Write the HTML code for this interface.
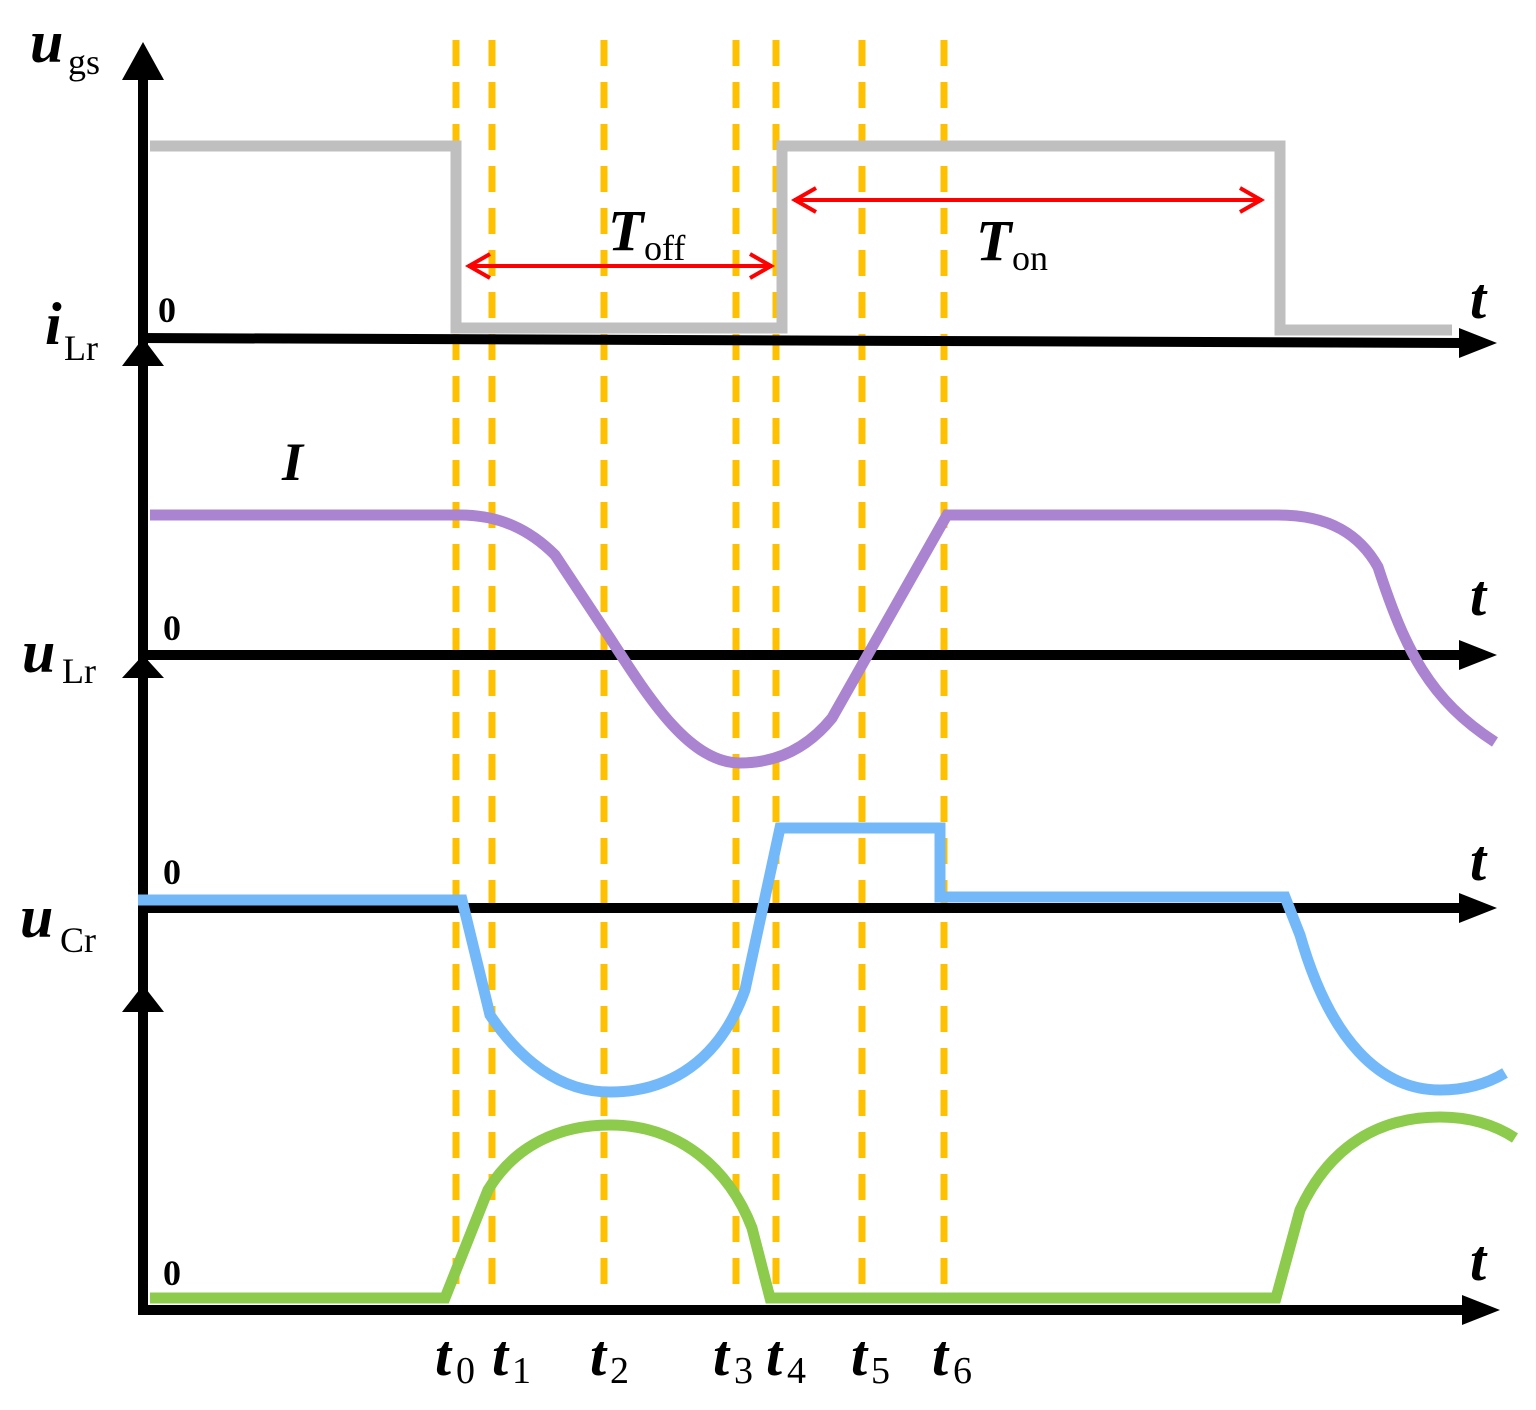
<!DOCTYPE html>
<html><head><meta charset="utf-8"><style>
html,body{margin:0;padding:0;background:#fff;}
svg{display:block;}
text{font-family:"Liberation Serif",serif;}
.b{font-weight:bold;font-style:italic;}
.s{font-weight:normal;font-style:normal;}
.z{font-weight:bold;}
</style></head><body>
<svg width="1536" height="1410" viewBox="0 0 1536 1410" xmlns="http://www.w3.org/2000/svg">
<g stroke="#FFC000" stroke-width="7" stroke-dasharray="26 16" fill="none">
<line x1="456" y1="40" x2="456" y2="1290"/>
<line x1="492" y1="40" x2="492" y2="1290"/>
<line x1="604" y1="40" x2="604" y2="1290"/>
<line x1="736" y1="40" x2="736" y2="1290"/>
<line x1="776" y1="40" x2="776" y2="1290"/>
<line x1="862" y1="40" x2="862" y2="1290"/>
<line x1="944" y1="40" x2="944" y2="1290"/>
</g>
<g stroke="#000" stroke-width="10" fill="none">
<line x1="143" y1="70" x2="143" y2="1312"/>
<line x1="138" y1="338" x2="1465" y2="343"/>
<line x1="138" y1="655" x2="1465" y2="655"/>
<line x1="138" y1="908" x2="1465" y2="908"/>
<line x1="138" y1="1310" x2="1465" y2="1310"/>
</g>
<g fill="#000">
<polygon points="143,42 122,80 164,80"/>
<polygon points="143,338 122,366 164,366"/>
<polygon points="143,655 122,678 164,678"/>
<polygon points="143,985 122,1012 164,1012"/>
<polygon points="1497,343 1459,328 1459,358"/>
<polygon points="1497,655 1459,640 1459,670"/>
<polygon points="1497,908 1459,893 1459,923"/>
<polygon points="1500,1310 1462,1295 1462,1325"/>
</g>
<polyline points="150,146 456,146 456,328 782,328 782,146 1280,146 1280,330 1452,330" fill="none" stroke="#BFBFBF" stroke-width="11"/>
<g stroke="#FF0000" stroke-width="4" fill="none">
<line x1="468" y1="266" x2="772" y2="266"/>
<polyline points="490,254 469,266 490,278"/>
<polyline points="750,254 771,266 750,278"/>
<line x1="794" y1="200" x2="1262" y2="200"/>
<polyline points="816,188 795,200 816,212"/>
<polyline points="1240,188 1261,200 1240,212"/>
</g>
<path d="M150,515 L460,515 C500,515 530,530 555,555 L610,638 C650,700 690,763 740,763 C780,763 810,745 832,718 L947,515 L1278,515 C1330,515 1360,535 1378,567 C1405,650 1430,700 1495,742" fill="none" stroke="#AA84D0" stroke-width="11"/>
<path d="M138,900 L462,900 L490,1015 C520,1060 560,1092 610,1092 C670,1092 720,1060 745,990 L780,828 L940,828 L940,897 L1285,897 L1300,935 C1330,1040 1380,1090 1440,1090 C1470,1090 1490,1082 1505,1073" fill="none" stroke="#73B9FA" stroke-width="11"/>
<path d="M150,1298 L445,1298 L488,1190 C515,1145 560,1125 610,1125 C680,1125 730,1170 752,1228 L770,1298 L1276,1298 L1300,1210 C1330,1145 1380,1117 1440,1117 C1470,1117 1495,1125 1515,1138" fill="none" stroke="#8CCB4C" stroke-width="11"/>
<g class="b">
<text x="30" y="62" font-size="60">u</text>
<text x="45" y="344" font-size="60">i</text>
<text x="22" y="672" font-size="60">u</text>
<text x="20" y="937" font-size="60">u</text>
<text x="282" y="480" font-size="54">I</text>
<text x="608" y="250" font-size="58">T</text>
<text x="976" y="260" font-size="58">T</text>
<text x="1470" y="318" font-size="58">t</text>
<text x="1470" y="615" font-size="58">t</text>
<text x="1470" y="880" font-size="58">t</text>
<text x="1470" y="1280" font-size="58">t</text>
<text x="435" y="1375" font-size="58">t</text>
<text x="492" y="1375" font-size="58">t</text>
<text x="590" y="1375" font-size="58">t</text>
<text x="713" y="1375" font-size="58">t</text>
<text x="766" y="1375" font-size="58">t</text>
<text x="851" y="1375" font-size="58">t</text>
<text x="932" y="1375" font-size="58">t</text>
</g>
<g class="s">
<text x="68" y="74" font-size="36">gs</text>
<text x="64" y="360" font-size="36">Lr</text>
<text x="62" y="683" font-size="36">Lr</text>
<text x="60" y="952" font-size="36">Cr</text>
<text x="644" y="260" font-size="36">off</text>
<text x="1012" y="270" font-size="36">on</text>
<text x="456" y="1383" font-size="38">0</text>
<text x="512" y="1383" font-size="38">1</text>
<text x="610" y="1383" font-size="38">2</text>
<text x="734" y="1383" font-size="38">3</text>
<text x="787" y="1383" font-size="38">4</text>
<text x="871" y="1383" font-size="38">5</text>
<text x="953" y="1383" font-size="38">6</text>
</g>
<g class="z" font-size="36">
<text x="158" y="322">0</text>
<text x="163" y="640">0</text>
<text x="163" y="884">0</text>
<text x="163" y="1285">0</text>
</g>
</svg>
</body></html>
